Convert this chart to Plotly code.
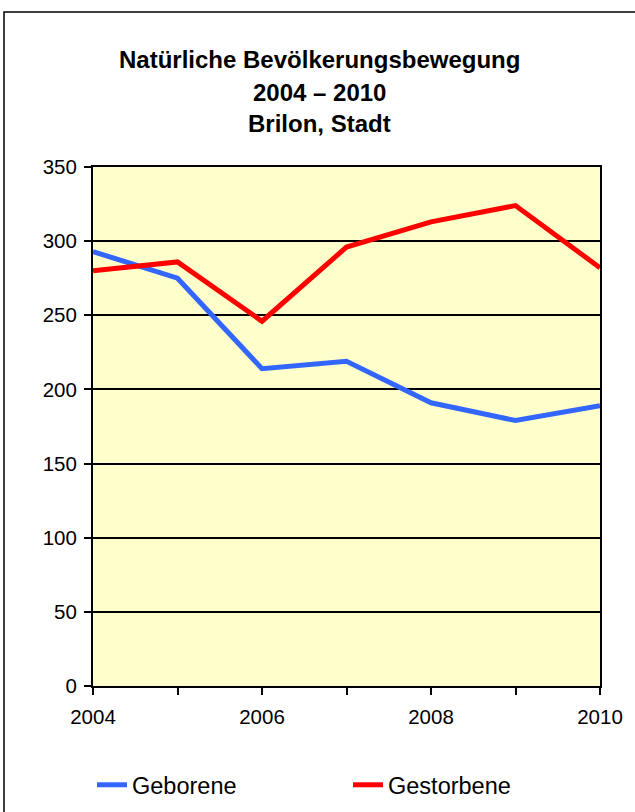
import plotly.graph_objects as go

years = [2004, 2005, 2006, 2007, 2008, 2009, 2010]
geborene = [293, 275, 214, 219, 191, 179, 189]
gestorbene = [280, 286, 246, 296, 313, 324, 282]
x_tickvals = [2004, 2005, 2006, 2007, 2008, 2009, 2010]
x_ticktext = ["2004", "", "2006", "", "2008", "", "2010"]
y_tickvals = [0, 50, 100, 150, 200, 250, 300, 350]
title_lines = ["Natürliche Bevölkerungsbewegung", "2004 – 2010", "Brilon, Stadt"]

font = "Arial, Liberation Sans, sans-serif"

fig = go.Figure()
fig.add_trace(go.Scatter(x=years, y=geborene, mode="lines", name="Geborene",
                         line=dict(color="#3366FF", width=5)))
fig.add_trace(go.Scatter(x=years, y=gestorbene, mode="lines", name="Gestorbene",
                         line=dict(color="#FF0000", width=5)))

L, R, T, B = 93, 35, 167, 126
W, H = 635, 812
pw, ph = W - L - R, H - T - B

def px_x(x):
    return (x - L) / pw

def px_y(y):
    return (H - B - y) / ph

annotations = []
for txt, yy in zip(title_lines, [60, 92, 124]):
    annotations.append(dict(text="<b>%s</b>" % txt, xref="paper", yref="paper",
                            x=px_x(319), y=px_y(yy), xanchor="center", yanchor="middle",
                            showarrow=False, font=dict(family=font, size=24, color="black")))

fig.update_layout(
    width=W, height=H,
    margin=dict(l=L, r=R, t=T, b=B, autoexpand=False),
    paper_bgcolor="white",
    plot_bgcolor="#FFFFCC",
    font=dict(family=font, size=20.5, color="black"),
    showlegend=True,
    legend=dict(orientation="h", x=px_x(92), y=px_y(785), xanchor="left", yanchor="middle",
                font=dict(family=font, size=23.5, color="black"),
                entrywidth=211, entrywidthmode="pixels", bgcolor="rgba(0,0,0,0)"),
    annotations=annotations,
    shapes=[dict(type="rect", xref="paper", yref="paper",
                 x0=px_x(4), x1=px_x(645), y0=px_y(820), y1=px_y(12),
                 line=dict(color="black", width=1.5), fillcolor="rgba(0,0,0,0)", layer="below")],
)
fig.update_xaxes(range=[2004, 2010], tickvals=x_tickvals, ticktext=x_ticktext,
                 showgrid=False, zeroline=False, showline=True, linecolor="black", linewidth=2,
                 mirror=True, ticks="outside", ticklen=7, tickwidth=2, tickcolor="black",
                 ticklabelstandoff=4, tickfont=dict(family=font, size=20.5))
fig.update_yaxes(range=[0, 350], tickvals=y_tickvals,
                 showgrid=True, gridcolor="black", gridwidth=1.5, zeroline=False,
                 showline=True, linecolor="black", linewidth=2, mirror=True,
                 ticks="outside", ticklen=7, tickwidth=2, tickcolor="black",
                 ticklabelstandoff=3, tickfont=dict(family=font, size=20.5))

fig.write_html("out.html", config={"displayModeBar": False},
               post_script="document.body.style.margin='0';")
